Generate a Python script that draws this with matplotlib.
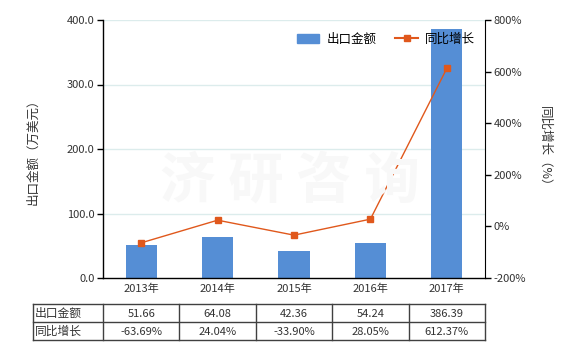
import matplotlib
matplotlib.use("Agg")
import matplotlib.pyplot as plt
from matplotlib.lines import Line2D
from matplotlib.patches import Patch

plt.rcParams['font.family'] = ['Noto Sans CJK SC', 'DejaVu Sans']

years = ["2013年", "2014年", "2015年", "2016年", "2017年"]
export_values = [51.66, 64.08, 42.36, 54.24, 386.39]
growth_values = [-63.69, 24.04, -33.90, 28.05, 612.37]
export_labels = ["51.66", "64.08", "42.36", "54.24", "386.39"]
growth_labels = ["-63.69%", "24.04%", "-33.90%", "28.05%", "612.37%"]
left_ticks = [0, 100, 200, 300, 400]
right_ticks = [-200, 0, 200, 400, 600, 800]

bar_color = "#558ed5"
line_color = "#e0581c"
text_color = "#333333"

W, H = 580, 350
fig = plt.figure(figsize=(W / 100, H / 100), dpi=100)
L, R, T, B = 103, 485, 20, 278
ax = fig.add_axes([L / W, 1 - B / H, (R - L) / W, (B - T) / H])

x = list(range(len(years)))
ax.bar(x, export_values, width=0.41, color=bar_color, zorder=2)
ax.set_xlim(-0.5, len(years) - 0.5)
ax.set_ylim(0, 400)
ax.set_yticks(left_ticks)
ax.set_yticklabels([f"{v:.1f}" for v in left_ticks], fontsize=8, color=text_color)
ax.set_xticks(x)
ax.set_xticklabels(years, fontsize=8, color=text_color)
ax.tick_params(axis='x', length=0, pad=4)
ax.tick_params(axis='y', length=4, width=1, pad=2)
for v in left_ticks[1:]:
    ax.axhline(v, color="#dcecec", lw=1, zorder=0)
for s in ["top", "right"]:
    ax.spines[s].set_visible(False)
for s in ["left", "bottom"]:
    ax.spines[s].set_color("black")
    ax.spines[s].set_linewidth(1)
ax.set_ylabel("出口金额（万美元）", fontsize=9, color=text_color)
ax.yaxis.set_label_coords((39 - L) / (R - L), 0.5)

ax2 = ax.twinx()
ax2.plot(x, growth_values, color=line_color, lw=1, marker='s', markersize=5, zorder=3)
ax2.set_ylim(-200, 800)
ax2.set_yticks(right_ticks)
ax2.set_yticklabels([f"{v}%" for v in right_ticks], fontsize=8, color=text_color)
ax2.tick_params(axis='y', length=4, width=1, pad=2)
for s in ["top", "left", "bottom"]:
    ax2.spines[s].set_visible(False)
ax2.spines["right"].set_color("black")
ax2.set_ylabel("同比增长（%）", fontsize=9, color=text_color, rotation=270, va="center")
ax2.yaxis.set_label_coords((545 - L) / (R - L), 0.5)

# watermark
fig.text(0.5, 0.48, "济 研 咨 询", fontsize=40, color="#f8f8f8", ha="center", va="center",
         fontweight="bold", zorder=0)

handles = [Patch(color=bar_color), Line2D([0], [0], color=line_color, lw=1.5, marker='s', markersize=4)]
fig.legend(handles, ["出口金额", "同比增长"], loc="center", bbox_to_anchor=(386 / W, 1 - 39 / H),
           ncol=2, frameon=False, fontsize=9, handlelength=1.8, handletextpad=0.6, columnspacing=1.5)

# table
tx0, tx1 = 33, 485
ty0, ty1 = 304, 340
col_w = (R - L) / len(years)
rows = [["出口金额"] + export_labels, ["同比增长"] + growth_labels]
tax = fig.add_axes([tx0 / W, 1 - ty1 / H, (tx1 - tx0) / W, (ty1 - ty0) / H])
tax.set_xlim(tx0, tx1)
tax.set_ylim(ty1, ty0)
tax.axis("off")
xs = [tx0, L] + [L + col_w * (i + 1) for i in range(len(years))]
ymid = (ty0 + ty1) / 2
for xv in xs:
    tax.plot([xv, xv], [ty0, ty1], color="#404040", lw=1, clip_on=False)
for yv in [ty0, ymid, ty1]:
    tax.plot([tx0, tx1], [yv, yv], color="#404040", lw=1, clip_on=False)
for r, row in enumerate(rows):
    yc = ty0 + (r + 0.5) * (ty1 - ty0) / 2
    tax.text(tx0 + 2, yc, row[0], ha="left", va="center", fontsize=8.5, color=text_color)
    for i, txt in enumerate(row[1:]):
        tax.text(L + col_w * (i + 0.5), yc + 1, txt, ha="center", va="center", fontsize=8, color=text_color)

fig.savefig("out.png", dpi=100)
